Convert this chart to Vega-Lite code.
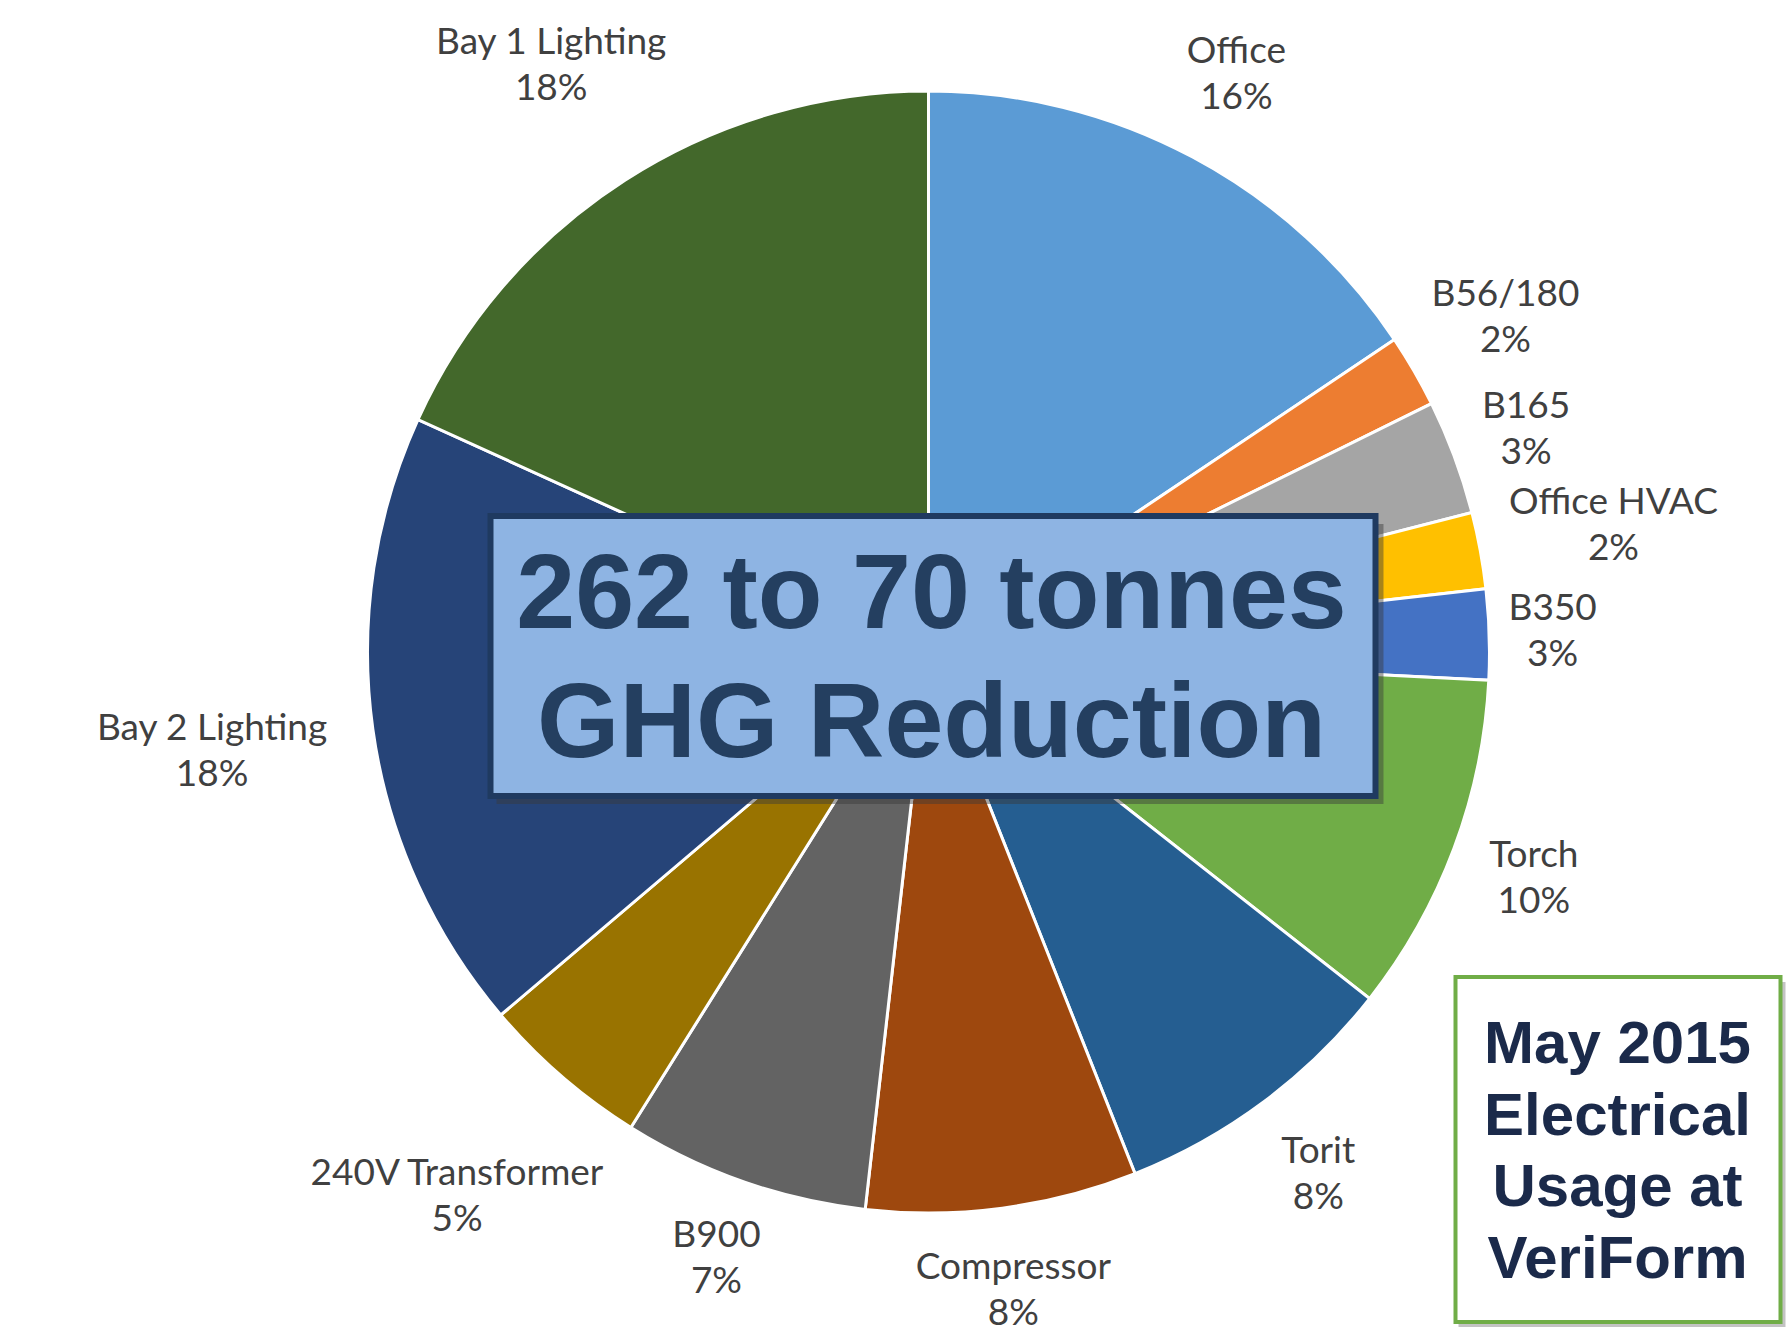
{
  "$schema": "https://vega.github.io/schema/vega-lite/v6.json",
  "width": 1717,
  "height": 1304,
  "autosize": "none",
  "padding": {"left": 70, "top": 0, "right": 0, "bottom": 29},
  "background": "white",
  "config": {"view": {"stroke": null}},
  "datasets": {
    "usage": [
      {"name": "Office", "value": 0.156, "idx": 1},
      {"name": "B56/180", "value": 0.021, "idx": 2},
      {"name": "B165", "value": 0.033, "idx": 3},
      {"name": "Office HVAC", "value": 0.022, "idx": 4},
      {"name": "B350", "value": 0.026, "idx": 5},
      {"name": "Torch", "value": 0.098, "idx": 6},
      {"name": "Torit", "value": 0.084, "idx": 7},
      {"name": "Compressor", "value": 0.078, "idx": 8},
      {"name": "B900", "value": 0.071, "idx": 9},
      {"name": "240V Transformer", "value": 0.049, "idx": 10},
      {"name": "Bay 2 Lighting", "value": 0.180, "idx": 11},
      {"name": "Bay 1 Lighting", "value": 0.182, "idx": 12}
    ]
  },
  "layer": [
    {
      "data": {"name": "usage"},
      "mark": {"type": "arc", "outerRadius": 561, "stroke": "white", "strokeWidth": 3},
      "encoding": {
        "theta": {"field": "value", "type": "quantitative", "stack": true},
        "order": {"field": "idx", "type": "quantitative"},
        "color": {
          "field": "name",
          "type": "nominal",
          "legend": null,
          "scale": {
            "domain": ["Office", "B56/180", "B165", "Office HVAC", "B350", "Torch", "Torit", "Compressor", "B900", "240V Transformer", "Bay 2 Lighting", "Bay 1 Lighting"],
            "range": ["#5B9BD5", "#ED7D31", "#A5A5A5", "#FFC000", "#4472C4", "#70AD47", "#255E91", "#9E480E", "#636363", "#997300", "#264478", "#43682B"]
          }
        }
      }
    },
    {
      "data": {"name": "usage"},
      "mark": {
        "type": "text",
        "font": "Lato",
        "fontSize": 37,
        "fill": "#404040",
        "align": "center",
        "baseline": "middle",
        "dy": -23,
        "radius": {"expr": "585 + abs(sin(scale('theta', 0.5*datum.value_start + 0.5*datum.value_end))) * length(datum.name) * 9.5 + abs(cos(scale('theta', 0.5*datum.value_start + 0.5*datum.value_end))) * 48"}
      },
      "encoding": {
        "theta": {"field": "value", "type": "quantitative", "stack": true},
        "order": {"field": "idx", "type": "quantitative"},
        "text": {"field": "name", "type": "nominal"}
      }
    },
    {
      "data": {"name": "usage"},
      "mark": {
        "type": "text",
        "font": "Lato",
        "fontSize": 37,
        "fill": "#404040",
        "align": "center",
        "baseline": "middle",
        "dy": 23,
        "radius": {"expr": "585 + abs(sin(scale('theta', 0.5*datum.value_start + 0.5*datum.value_end))) * length(datum.name) * 9.5 + abs(cos(scale('theta', 0.5*datum.value_start + 0.5*datum.value_end))) * 48"}
      },
      "encoding": {
        "theta": {"field": "value", "type": "quantitative", "stack": true},
        "order": {"field": "idx", "type": "quantitative"},
        "text": {"field": "value", "type": "quantitative", "format": ".0%"}
      }
    },
    {
      "data": {"values": [{"box": "center"}]},
      "mark": {"type": "point", "shape": "M-432,-128H455V152H-432Z", "size": 4, "filled": true, "fill": "#3a3a3a", "opacity": 0.45, "strokeWidth": 0},
      "encoding": {}
    },
    {
      "data": {"values": [{"box": "center"}]},
      "mark": {"type": "point", "shape": "M-438,-136H447V144H-438Z", "size": 4, "filled": true, "fill": "#8EB4E3", "stroke": "#1F3A60", "strokeWidth": 6, "opacity": 1},
      "encoding": {}
    },
    {
      "data": {"values": [{"box": "center"}]},
      "mark": {
        "type": "text",
        "text": ["262 to 70 tonnes", "GHG Reduction"],
        "font": "Liberation Sans",
        "fontWeight": "bold",
        "fontSize": 106,
        "lineHeight": 129,
        "fill": "#243F60",
        "align": "center",
        "baseline": "alphabetic",
        "dx": 3,
        "dy": -24
      },
      "encoding": {}
    },
    {
      "data": {"values": [{"box": "may"}]},
      "mark": {"type": "point", "shape": "M530,330H857V675H530Z", "size": 4, "filled": true, "fill": "#7a7a7a", "opacity": 0.45, "strokeWidth": 0},
      "encoding": {}
    },
    {
      "data": {"values": [{"box": "may"}]},
      "mark": {"type": "point", "shape": "M527,325H852V670H527Z", "size": 4, "filled": true, "fill": "white", "stroke": "#70AD47", "strokeWidth": 4, "opacity": 1},
      "encoding": {}
    },
    {
      "data": {"values": [{"box": "may"}]},
      "mark": {
        "type": "text",
        "text": ["May 2015", "Electrical", "Usage at", "VeriForm"],
        "font": "Liberation Sans",
        "fontWeight": "bold",
        "fontSize": 60,
        "lineHeight": 71.5,
        "fill": "#1B2A4A",
        "align": "center",
        "baseline": "alphabetic",
        "dx": 689,
        "dy": 411
      },
      "encoding": {}
    }
  ]
}
